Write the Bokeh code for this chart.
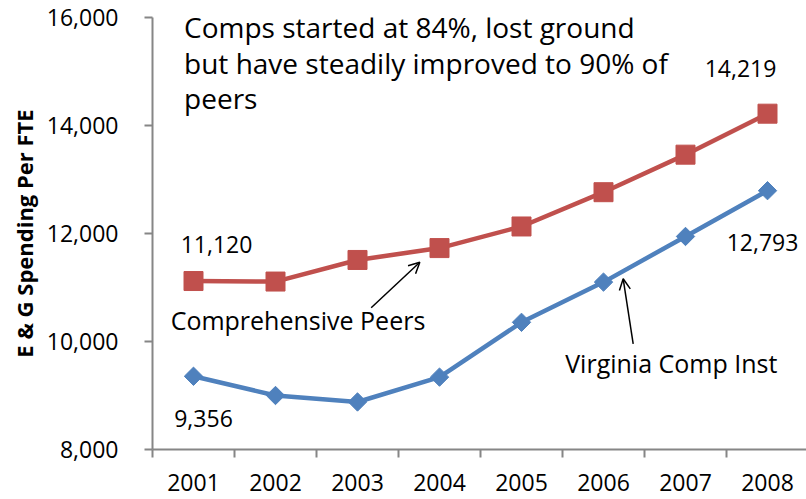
from bokeh.plotting import figure
from bokeh.models import (Range1d, FixedTicker, NumeralTickFormatter, Label, Arrow,
                          OpenHead, ColumnDataSource)
from bokeh.core.properties import value
from bokeh.embed import file_html
from bokeh.resources import INLINE
import math

# ---- data ----
years = ["2001", "2002", "2003", "2004", "2005", "2006", "2007", "2008"]
peers = [11120, 11110, 11510, 11730, 12130, 12765, 13460, 14219]
virginia = [9356, 9000, 8880, 9340, 10355, 11100, 11945, 12793]
y_ticks = [8000, 10000, 12000, 14000, 16000]
peers_name = "Comprehensive Peers"
virginia_name = "Virginia Comp Inst"
note_lines = ["Comps started at 84%, lost ground",
              "but have steadily improved to 90% of",
              "peers"]

RED = "#C0504D"
BLUE = "#4F81BD"
AXIS = "#868686"
FONT = "Open Sans"

xs = [i + 0.5 for i in range(len(years))]

p = figure(width=806, height=499, output_backend="svg", toolbar_location=None,
           x_range=Range1d(0, 654 / 82), y_range=Range1d(y_ticks[0], y_ticks[-1]),
           min_border_left=152, min_border_right=0, min_border_top=17, min_border_bottom=50)
p.outline_line_color = None
p.xgrid.visible = False
p.ygrid.visible = False
p.background_fill_color = "white"

# y axis
p.yaxis.ticker = FixedTicker(ticks=y_ticks)
p.yaxis.formatter = NumeralTickFormatter(format="0,0")
p.yaxis.axis_label = "E & G Spending Per FTE"
p.yaxis.axis_label_text_font = FONT
p.yaxis.axis_label_text_font_style = "bold"
p.yaxis.axis_label_text_font_size = "22px"
p.yaxis.axis_label_text_color = "black"
p.yaxis.axis_label_standoff = 5
p.yaxis.major_label_text_font = FONT
p.yaxis.major_label_text_font_size = "23px"
p.yaxis.major_label_text_color = "black"
p.yaxis.major_label_standoff = 26
p.yaxis.major_tick_out = 8
p.yaxis.major_tick_in = 0
p.yaxis.minor_tick_out = 0
p.yaxis.minor_tick_in = 0
p.yaxis.axis_line_color = AXIS
p.yaxis.axis_line_width = 2
p.yaxis.major_tick_line_color = AXIS
p.yaxis.major_tick_line_width = 2

# x axis: labels at category centres, ticks at category boundaries
p.xaxis.ticker = FixedTicker(ticks=xs, minor_ticks=list(range(len(years) + 1)))
p.xaxis.major_label_overrides = {x: y for x, y in zip(xs, years)}
p.xaxis.major_label_text_font = FONT
p.xaxis.major_label_text_font_size = "23px"
p.xaxis.major_label_text_color = "black"
p.xaxis.major_label_standoff = 16
p.xaxis.major_tick_out = 0
p.xaxis.major_tick_in = 0
p.xaxis.minor_tick_out = 8
p.xaxis.minor_tick_in = 0
p.xaxis.minor_tick_line_color = AXIS
p.xaxis.minor_tick_line_width = 2
p.xaxis.axis_line_color = AXIS
p.xaxis.axis_line_width = 2

# series
p.line(xs, peers, line_color=RED, line_width=4.5)
p.scatter(xs, peers, marker="square", size=19, fill_color=RED, line_color=RED)
p.line(xs, virginia, line_color=BLUE, line_width=4.5)
p.scatter(xs, virginia, marker="square", size=13, angle=math.pi / 4,
          fill_color=BLUE, line_color=BLUE)

# end-point data labels
lab = ColumnDataSource(dict(
    x=[xs[0], xs[0], xs[-1], xs[-1]],
    y=[peers[0], virginia[0], peers[-1], virginia[-1]],
    text=["{:,}".format(v) for v in (peers[0], virginia[0], peers[-1], virginia[-1])],
    dx=[23, 10, -27, -5],
    dy=[-37, 42, -45, 52],
))
p.text(x="x", y="y", text="text", x_offset="dx", y_offset="dy", source=lab,
       text_font=value(FONT), text_font_size="23px", text_color="black",
       text_align="center", text_baseline="middle")

# series name labels
p.add_layout(Label(x=1.774, y=10398, text=peers_name, text_font=FONT,
                   text_font_size="25px", text_color="black",
                   text_align="center", text_baseline="middle"))
p.add_layout(Label(x=6.327, y=9600, text=virginia_name, text_font=FONT,
                   text_font_size="25px", text_color="black",
                   text_align="center", text_baseline="middle"))

# arrows
p.add_layout(Arrow(x_start=2.667, y_start=10624, x_end=3.26, y_end=11468,
                   line_color="black", line_width=1.5,
                   end=OpenHead(size=11, line_color="black", line_width=1.5)))
p.add_layout(Arrow(x_start=5.862, y_start=9957, x_end=5.74, y_end=11161,
                   line_color="black", line_width=1.5,
                   end=OpenHead(size=11, line_color="black", line_width=1.5)))

# note text
for line, yy in zip(note_lines, [15831, 15165, 14507]):
    p.add_layout(Label(x=0.385, y=yy, text=line, text_font=FONT,
                       text_font_size="28px", text_color="black",
                       text_align="left", text_baseline="middle"))

open("out.html", "w").write(file_html(p, INLINE))
